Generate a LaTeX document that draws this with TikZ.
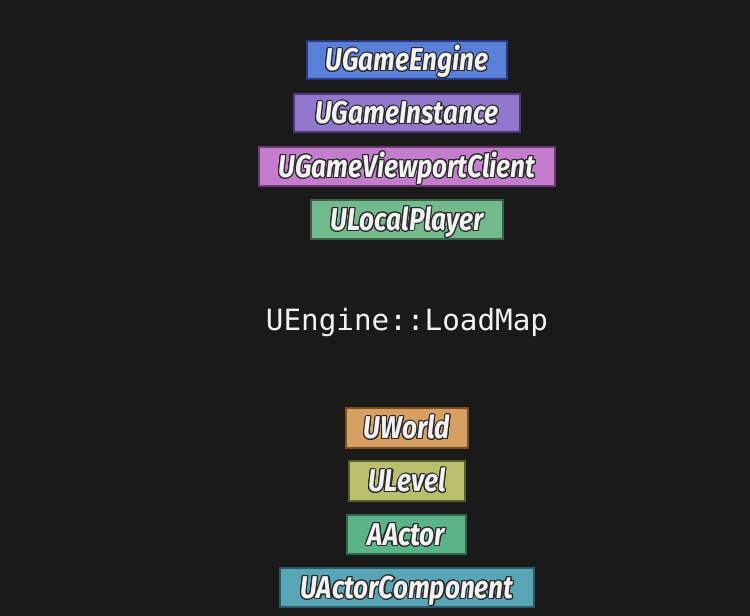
\documentclass[tikz,border=0pt]{standalone}
\usepackage{fontspec}
\usepackage[copies]{contour}
\newfontfamily\boxfont[FakeStretch=0.83]{Fira Sans}
\newfontfamily\codefont{DejaVu Sans Mono}
\contourlength{1.1pt}
\contournumber{16}
\definecolor{bg}{HTML}{1A1A1A}
\definecolor{outl}{HTML}{2A2A2A}
\definecolor{txt}{HTML}{F2F2F2}
\definecolor{cEng}{HTML}{5A7FD8}\definecolor{bEng}{HTML}{233A80}
\definecolor{cIns}{HTML}{9178CC}\definecolor{bIns}{HTML}{4A3A78}
\definecolor{cVpc}{HTML}{C47CCC}\definecolor{bVpc}{HTML}{6A3A70}
\definecolor{cLp}{HTML}{72B98C}\definecolor{bLp}{HTML}{3A6048}
\definecolor{cWld}{HTML}{D6A062}\definecolor{bWld}{HTML}{7A5020}
\definecolor{cLvl}{HTML}{B9BF6C}\definecolor{bLvl}{HTML}{5C6020}
\definecolor{cAct}{HTML}{5AB487}\definecolor{bAct}{HTML}{2A6A48}
\definecolor{cCmp}{HTML}{58A5B5}\definecolor{bCmp}{HTML}{2A5A6A}
\tikzset{
  classbox/.style={rectangle, line width=2pt, inner sep=0pt, anchor=center,
    text height=21.7pt, text depth=0pt,
    font=\boxfont\bfseries\itshape\fontsize{31.5}{33}\selectfont},
}
\newcommand\otx[1]{\contour{outl}{\textcolor{txt}{#1}}}
\begin{document}
\begin{tikzpicture}[x=1pt,y=1pt]
\fill[bg] (0,0) rectangle (750,616);
\useasboundingbox (0,0) rectangle (750,616);
\node[classbox, fill=cEng, draw=bEng, minimum width=200pt, minimum height=38pt] (eng) at (407,556) {\otx{UGameEngine}};
\node[classbox, fill=cIns, draw=bIns, minimum width=226pt, minimum height=38pt] (ins) at (407,503) {\otx{UGameInstance}};
\node[classbox, fill=cVpc, draw=bVpc, minimum width=296pt, minimum height=39pt] (vpc) at (407,449.5) {\otx{UGameViewportClient}};
\node[classbox, fill=cLp, draw=bLp, minimum width=192pt, minimum height=39pt] (lp) at (407,396.5) {\otx{ULocalPlayer}};
\node[text=txt, font=\codefont\fontsize{29.3}{31}\selectfont, inner sep=0pt] (load) at (407,293) {UEngine::LoadMap};
\node[classbox, fill=cWld, draw=bWld, minimum width=122pt, minimum height=40pt] (wld) at (407,188) {\otx{UWorld}};
\node[classbox, fill=cLvl, draw=bLvl, minimum width=116pt, minimum height=40pt] (lvl) at (407,135) {\otx{ULevel}};
\node[classbox, fill=cAct, draw=bAct, minimum width=119pt, minimum height=39pt] (act) at (406.5,81.5) {\otx{AActor}};
\node[classbox, fill=cCmp, draw=bCmp, minimum width=254pt, minimum height=39pt] (cmp) at (407,28.5) {\otx{UActorComponent}};
\end{tikzpicture}
\end{document}
